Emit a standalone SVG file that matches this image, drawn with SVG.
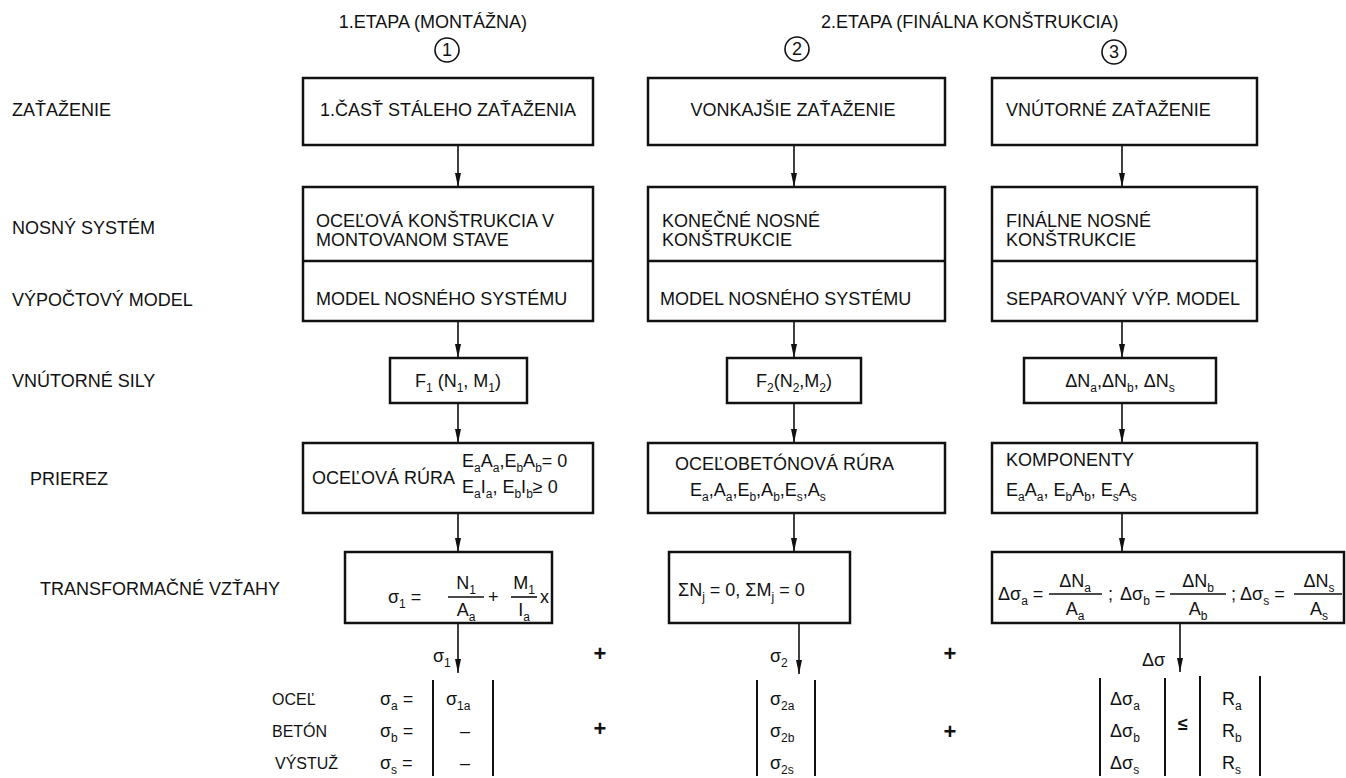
<svg xmlns="http://www.w3.org/2000/svg" width="1346" height="778" viewBox="0 0 1346 778">
<defs>
<style>
text{font-family:"Liberation Sans",Arial,sans-serif;font-size:18px;fill:#111}
.s{font-size:12px}
.lab{font-size:16px}
.box{fill:none;stroke:#111;stroke-width:2.5}
.ln{fill:none;stroke:#111;stroke-width:1.6}
.fr{fill:none;stroke:#111;stroke-width:1.6}
.bar{fill:none;stroke:#111;stroke-width:2}
.plus{font-size:22px;font-weight:bold}
</style>
<marker id="ah" viewBox="0 0 14 6" refX="14" refY="3" markerWidth="14" markerHeight="6" orient="auto" markerUnits="userSpaceOnUse"><path d="M0,0 L14,3 L0,6 z" fill="#111"/></marker>
</defs>
<rect width="1346" height="778" fill="#fff"/>

<g id="headers">
<text x="527" y="28" text-anchor="end">1.ETAPA (MONTÁŽNA)</text>
<circle cx="447" cy="50" r="12" class="ln"/><text x="447" y="56" text-anchor="middle" font-size="16">1</text>
<text x="821" y="28">2.ETAPA (FINÁLNA KONŠTRUKCIA)</text>
<circle cx="797" cy="49" r="12" class="ln"/><text x="797" y="55" text-anchor="middle" font-size="16">2</text>
<circle cx="1114" cy="52" r="12" class="ln"/><text x="1114" y="58" text-anchor="middle" font-size="16">3</text>
</g>

<g id="row-labels">
<text x="12" y="116">ZAŤAŽENIE</text>
<text x="12" y="234">NOSNÝ SYSTÉM</text>
<text x="12" y="306">VÝPOČTOVÝ MODEL</text>
<text x="12" y="387">VNÚTORNÉ SILY</text>
<text x="30" y="485">PRIEREZ</text>
<text x="40" y="595">TRANSFORMAČNÉ VZŤAHY</text>
</g>

<g id="connectors">
<line class="ln" x1="458" y1="145" x2="458" y2="187" marker-end="url(#ah)"/>
<line class="ln" x1="458" y1="321" x2="458" y2="358" marker-end="url(#ah)"/>
<line class="ln" x1="458" y1="403" x2="458" y2="443" marker-end="url(#ah)"/>
<line class="ln" x1="458" y1="513" x2="458" y2="552" marker-end="url(#ah)"/>
<line class="ln" x1="458" y1="623" x2="458" y2="673" marker-end="url(#ah)"/>
<line class="ln" x1="794" y1="145" x2="794" y2="187" marker-end="url(#ah)"/>
<line class="ln" x1="794" y1="321" x2="794" y2="358" marker-end="url(#ah)"/>
<line class="ln" x1="794" y1="403" x2="794" y2="443" marker-end="url(#ah)"/>
<line class="ln" x1="794" y1="513" x2="794" y2="552" marker-end="url(#ah)"/>
<line class="ln" x1="799" y1="623" x2="799" y2="674" marker-end="url(#ah)"/>
<line class="ln" x1="1122" y1="145" x2="1122" y2="187" marker-end="url(#ah)"/>
<line class="ln" x1="1122" y1="321" x2="1122" y2="358" marker-end="url(#ah)"/>
<line class="ln" x1="1122" y1="403" x2="1122" y2="443" marker-end="url(#ah)"/>
<line class="ln" x1="1122" y1="513" x2="1122" y2="552" marker-end="url(#ah)"/>
<line class="ln" x1="1180" y1="623" x2="1180" y2="672" marker-end="url(#ah)"/>
</g>

<g id="a1"><rect class="box" x="303" y="78" width="290" height="67"/><text x="448" y="116" text-anchor="middle">1.ČASŤ STÁLEHO ZAŤAŽENIA</text></g>
<g id="a2"><rect class="box" x="648" y="78" width="297" height="67"/><text x="793" y="116" text-anchor="middle">VONKAJŠIE ZAŤAŽENIE</text></g>
<g id="a3"><rect class="box" x="992" y="78" width="265" height="67"/><text x="1006" y="116">VNÚTORNÉ ZAŤAŽENIE</text></g>

<g id="b1"><rect class="box" x="303" y="187" width="290" height="134"/><line class="box" x1="303" y1="261" x2="593" y2="261"/>
<text x="316" y="227">OCEĽOVÁ KONŠTRUKCIA V</text><text x="316" y="246">MONTOVANOM STAVE</text>
<text x="316" y="305">MODEL NOSNÉHO SYSTÉMU</text></g>
<g id="b2"><rect class="box" x="648" y="187" width="297" height="134"/><line class="box" x1="648" y1="261" x2="945" y2="261"/>
<text x="662" y="227">KONEČNÉ NOSNÉ</text><text x="662" y="246">KONŠTRUKCIE</text>
<text x="660" y="305">MODEL NOSNÉHO SYSTÉMU</text></g>
<g id="b3"><rect class="box" x="992" y="187" width="265" height="134"/><line class="box" x1="992" y1="261" x2="1257" y2="261"/>
<text x="1006" y="227">FINÁLNE NOSNÉ</text><text x="1006" y="246">KONŠTRUKCIE</text>
<text x="1006" y="305">SEPAROVANÝ VÝP. MODEL</text></g>

<g id="f1"><rect class="box" x="390" y="358" width="137" height="45"/>
<text x="458" y="387" text-anchor="middle">F<tspan class="s" dy="5">1</tspan><tspan dy="-5"> (N</tspan><tspan class="s" dy="5">1</tspan><tspan dy="-5">, M</tspan><tspan class="s" dy="5">1</tspan><tspan dy="-5">)</tspan></text></g>
<g id="f2"><rect class="box" x="727" y="358" width="134" height="45"/>
<text x="794" y="387" text-anchor="middle">F<tspan class="s" dy="5">2</tspan><tspan dy="-5">(N</tspan><tspan class="s" dy="5">2</tspan><tspan dy="-5">,M</tspan><tspan class="s" dy="5">2</tspan><tspan dy="-5">)</tspan></text></g>
<g id="f3"><rect class="box" x="1024" y="358" width="192" height="45"/>
<text x="1120" y="387" text-anchor="middle">ΔN<tspan class="s" dy="5">a</tspan><tspan dy="-5">,ΔN</tspan><tspan class="s" dy="5">b</tspan><tspan dy="-5">, ΔN</tspan><tspan class="s" dy="5">s</tspan></text></g>

<g id="d1"><rect class="box" x="303" y="443" width="290" height="70"/>
<text x="312" y="484">OCEĽOVÁ RÚRA</text>
<text x="462" y="467">E<tspan class="s" dy="5">a</tspan><tspan dy="-5">A</tspan><tspan class="s" dy="5">a</tspan><tspan dy="-5">,E</tspan><tspan class="s" dy="5">b</tspan><tspan dy="-5">A</tspan><tspan class="s" dy="5">b</tspan><tspan dy="-5">= 0</tspan></text>
<text x="462" y="493">E<tspan class="s" dy="5">a</tspan><tspan dy="-5">I</tspan><tspan class="s" dy="5">a</tspan><tspan dy="-5">, E</tspan><tspan class="s" dy="5">b</tspan><tspan dy="-5">I</tspan><tspan class="s" dy="5">b</tspan><tspan dy="-5">≥ 0</tspan></text></g>
<g id="d2"><rect class="box" x="648" y="443" width="297" height="70"/>
<text x="675" y="470">OCEĽOBETÓNOVÁ RÚRA</text>
<text x="690" y="496">E<tspan class="s" dy="5">a</tspan><tspan dy="-5">,A</tspan><tspan class="s" dy="5">a</tspan><tspan dy="-5">,E</tspan><tspan class="s" dy="5">b</tspan><tspan dy="-5">,A</tspan><tspan class="s" dy="5">b</tspan><tspan dy="-5">,E</tspan><tspan class="s" dy="5">s</tspan><tspan dy="-5">,A</tspan><tspan class="s" dy="5">s</tspan></text></g>
<g id="d3"><rect class="box" x="992" y="443" width="265" height="70"/>
<text x="1006" y="466">KOMPONENTY</text>
<text x="1006" y="496">E<tspan class="s" dy="5">a</tspan><tspan dy="-5">A</tspan><tspan class="s" dy="5">a</tspan><tspan dy="-5">, E</tspan><tspan class="s" dy="5">b</tspan><tspan dy="-5">A</tspan><tspan class="s" dy="5">b</tspan><tspan dy="-5">, E</tspan><tspan class="s" dy="5">s</tspan><tspan dy="-5">A</tspan><tspan class="s" dy="5">s</tspan></text></g>

<g id="e1"><rect class="box" x="345" y="552" width="207" height="71"/>
<text x="388" y="603">σ<tspan class="s" dy="5">1</tspan><tspan dy="-5"> =</tspan></text>
<text x="466" y="589" text-anchor="middle">N<tspan class="s" dy="5">1</tspan></text>
<line class="fr" x1="448" y1="597" x2="484" y2="597"/>
<text x="466" y="616" text-anchor="middle">A<tspan class="s" dy="5">a</tspan></text>
<text x="488" y="603">+</text>
<text x="524" y="589" text-anchor="middle">M<tspan class="s" dy="5">1</tspan></text>
<line class="fr" x1="511" y1="597" x2="537" y2="597"/>
<text x="524" y="616" text-anchor="middle">I<tspan class="s" dy="5">a</tspan></text>
<text x="540" y="603">x</text></g>
<g id="e2"><rect class="box" x="669" y="552" width="181" height="71"/>
<text x="678" y="596">ΣN<tspan class="s" dy="5">j</tspan><tspan dy="-5"> = 0, ΣM</tspan><tspan class="s" dy="5">j</tspan><tspan dy="-5"> = 0</tspan></text></g>
<g id="e3"><rect class="box" x="992" y="552" width="352" height="71"/>
<text x="998" y="600">Δσ<tspan class="s" dy="5">a</tspan><tspan dy="-5"> =</tspan></text>
<text x="1075" y="587" text-anchor="middle">ΔN<tspan class="s" dy="5">a</tspan></text>
<line class="fr" x1="1049" y1="594" x2="1102" y2="594"/>
<text x="1075" y="615" text-anchor="middle">A<tspan class="s" dy="5">a</tspan></text>
<text x="1108" y="600">;</text>
<text x="1120" y="600">Δσ<tspan class="s" dy="5">b</tspan><tspan dy="-5"> =</tspan></text>
<text x="1198" y="587" text-anchor="middle">ΔN<tspan class="s" dy="5">b</tspan></text>
<line class="fr" x1="1170" y1="594" x2="1226" y2="594"/>
<text x="1198" y="615" text-anchor="middle">A<tspan class="s" dy="5">b</tspan></text>
<text x="1231" y="600">;</text>
<text x="1240" y="600">Δσ<tspan class="s" dy="5">s</tspan><tspan dy="-5"> =</tspan></text>
<text x="1319" y="587" text-anchor="middle">ΔN<tspan class="s" dy="5">s</tspan></text>
<line class="fr" x1="1294" y1="594" x2="1342" y2="594"/>
<text x="1319" y="615" text-anchor="middle">A<tspan class="s" dy="5">s</tspan></text></g>

<g id="results">
<text x="433" y="662">σ<tspan class="s" dy="5">1</tspan></text>
<text x="770" y="662">σ<tspan class="s" dy="5">2</tspan></text>
<text x="1142" y="666">Δσ</text>
<text class="plus" x="600" y="661" text-anchor="middle">+</text>
<text class="plus" x="600" y="736" text-anchor="middle">+</text>
<text class="plus" x="950" y="661" text-anchor="middle">+</text>
<text class="plus" x="950" y="739" text-anchor="middle">+</text>
</g>

<g id="matrix1">
<text class="lab" x="272" y="705">OCEĽ</text>
<text class="lab" x="272" y="737">BETÓN</text>
<text class="lab" x="275" y="769">VÝSTUŽ</text>
<text x="380" y="705">σ<tspan class="s" dy="5">a</tspan><tspan dy="-5"> =</tspan></text>
<text x="380" y="737">σ<tspan class="s" dy="5">b</tspan><tspan dy="-5"> =</tspan></text>
<text x="380" y="769">σ<tspan class="s" dy="5">s</tspan><tspan dy="-5"> =</tspan></text>
<line class="bar" x1="433" y1="680" x2="433" y2="776"/>
<line class="bar" x1="493" y1="680" x2="493" y2="776"/>
<text x="446" y="705">σ<tspan class="s" dy="5">1a</tspan></text>
<text x="465" y="737" text-anchor="middle">–</text>
<text x="465" y="769" text-anchor="middle">–</text>
</g>

<g id="matrix2">
<line class="bar" x1="757" y1="680" x2="757" y2="776"/>
<line class="bar" x1="815" y1="680" x2="815" y2="776"/>
<text x="770" y="705">σ<tspan class="s" dy="5">2a</tspan></text>
<text x="770" y="737">σ<tspan class="s" dy="5">2b</tspan></text>
<text x="770" y="769">σ<tspan class="s" dy="5">2s</tspan></text>
</g>

<g id="matrix3">
<line class="bar" x1="1100" y1="678" x2="1100" y2="776"/>
<line class="bar" x1="1165" y1="678" x2="1165" y2="776"/>
<line class="bar" x1="1200" y1="676" x2="1200" y2="776"/>
<line class="bar" x1="1260" y1="676" x2="1260" y2="776"/>
<text x="1110" y="705">Δσ<tspan class="s" dy="5">a</tspan></text>
<text x="1110" y="737">Δσ<tspan class="s" dy="5">b</tspan></text>
<text x="1110" y="769">Δσ<tspan class="s" dy="5">s</tspan></text>
<text x="1183" y="730" text-anchor="middle" font-weight="bold">≤</text>
<text x="1222" y="705">R<tspan class="s" dy="5">a</tspan></text>
<text x="1222" y="737">R<tspan class="s" dy="5">b</tspan></text>
<text x="1222" y="769">R<tspan class="s" dy="5">s</tspan></text>
</g>
</svg>
